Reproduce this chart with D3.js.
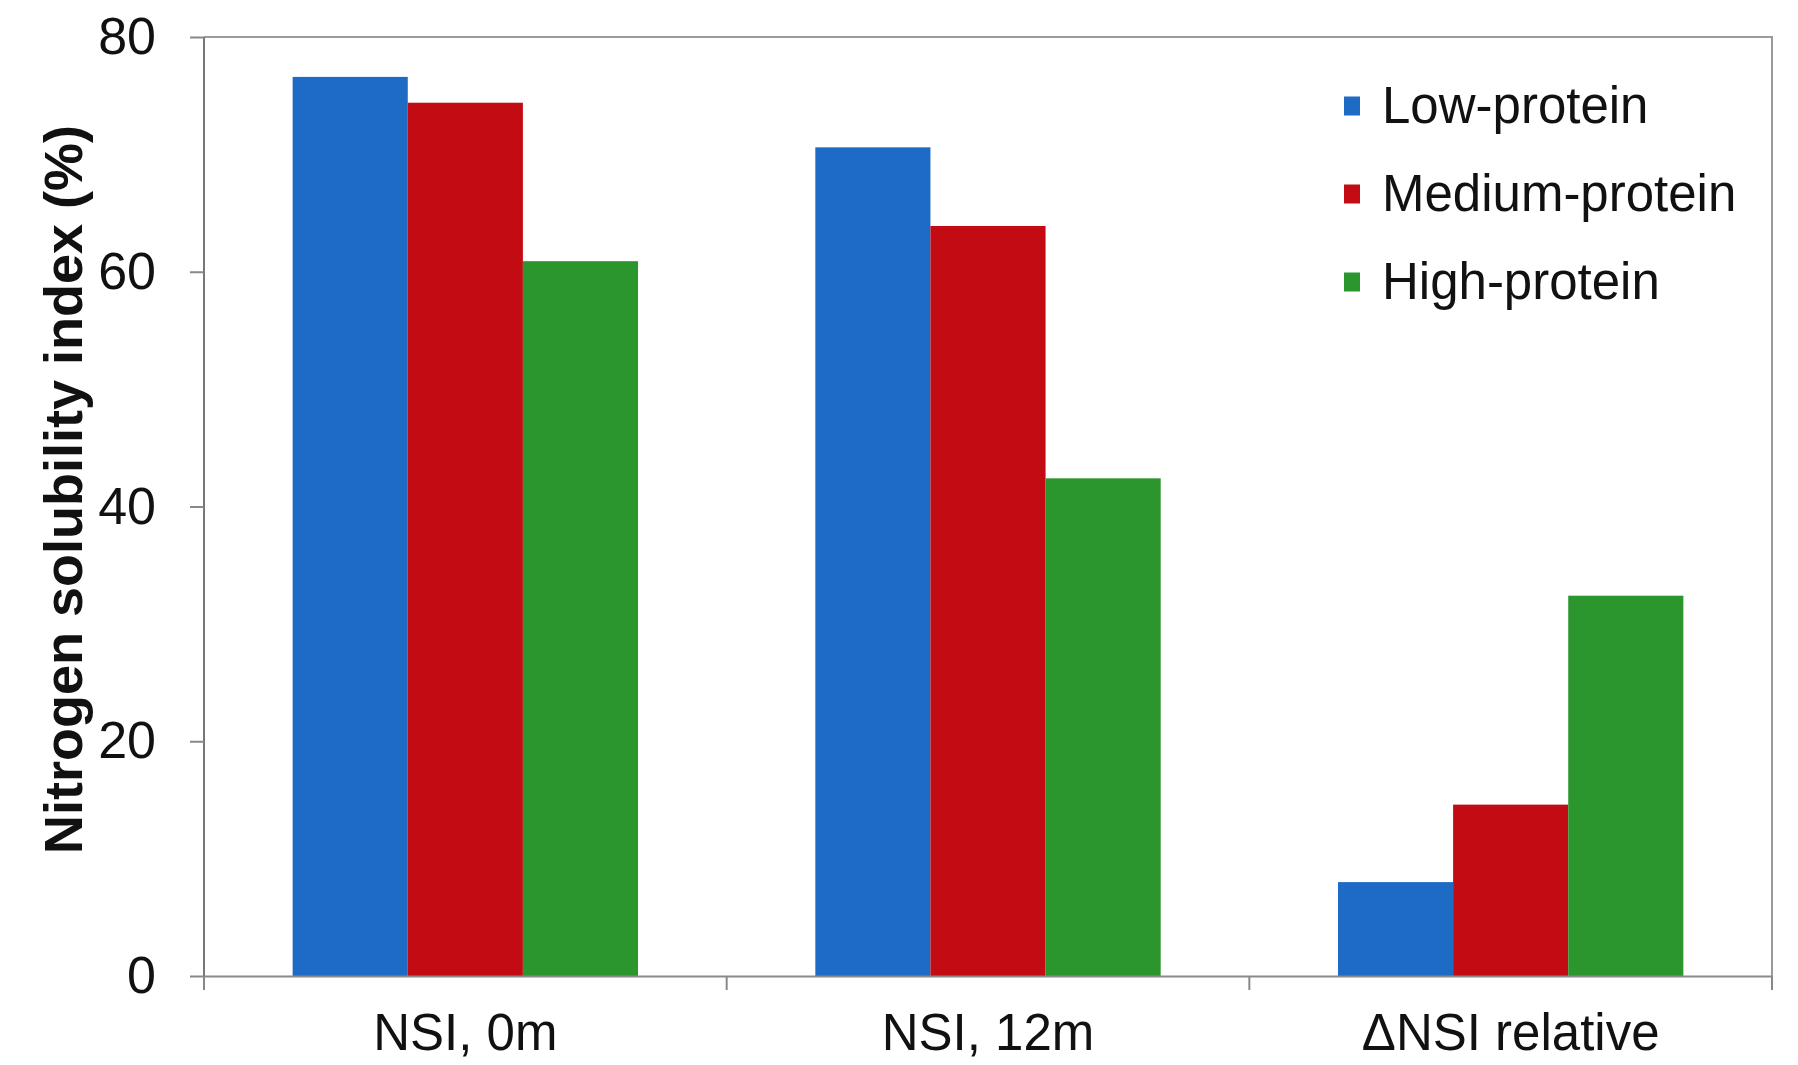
<!DOCTYPE html>
<html>
<head>
<meta charset="utf-8">
<script src="https://cdn.jsdelivr.net/npm/d3@7"></script>
<style>
  body { margin: 0; background: #fff; }
  svg { display: block; font-family: "Liberation Sans", Arial, sans-serif; }
</style>
</head>
<body>
<div id="chart"></div>
<script>
// values
var categories = ["NSI, 0m", "NSI, 12m", "\u0394NSI relative"];
var series = ["Low-protein", "Medium-protein", "High-protein"];
var lowProtein = [76.6, 70.6, 8.0];
var mediumProtein = [74.4, 63.9, 14.6];
var highProtein = [60.9, 42.4, 32.4];
var yTicks = [0, 20, 40, 60, 80];
var colors = ["#1e6bc6", "#c20b12", "#2b962d"];

var values = [lowProtein, mediumProtein, highProtein];

var width = 1798,
    height = 1065,
    margin = {top: 37, right: 26, bottom: 89, left: 204};

var svg = d3.select("#chart").append("svg")
    .attr("width", width)
    .attr("height", height);

var x0 = d3.scaleBand()
    .domain(categories)
    .range([margin.left, width - margin.right]);

var x1 = d3.scaleBand()
    .domain(series)
    .range([0, x0.bandwidth()])
    .paddingOuter(0.77);

var y = d3.scaleLinear()
    .domain([0, 80])
    .range([height - margin.bottom, margin.top]);

// rows of {cat, series, value}
var rows = [];
categories.forEach(function(c, i) {
    series.forEach(function(s, j) {
        rows.push({cat: c, series: s, value: values[j][i], color: colors[j]});
    });
});

// plot frame (top + right)
svg.append("path")
    .attr("d", "M" + margin.left + "," + y(80) + "H" + (width - margin.right) + "V" + y(0))
    .attr("fill", "none")
    .attr("stroke", "#9a9a9a")
    .attr("stroke-width", 2);

// bars
svg.append("g").selectAll("rect")
    .data(rows)
    .enter().append("rect")
    .attr("x", function(d) { return x0(d.cat) + x1(d.series); })
    .attr("width", x1.bandwidth())
    .attr("y", function(d) { return y(d.value); })
    .attr("height", function(d) { return y(0) - y(d.value); })
    .attr("fill", function(d) { return d.color; });

// y axis
var yAxis = svg.append("g")
    .attr("transform", "translate(" + margin.left + ",0)")
    .call(d3.axisLeft(y).tickValues(yTicks).tickSize(14).tickPadding(34).tickSizeOuter(0));
yAxis.select(".domain").attr("stroke", "#777").attr("stroke-width", 2)
    .attr("d", "M0," + y(80) + "V" + (y(0) + 14));
yAxis.selectAll(".tick line").attr("stroke", "#888").attr("stroke-width", 2);
yAxis.selectAll(".tick text")
    .attr("font-size", 52)
    .attr("font-family", "Liberation Sans, Arial, sans-serif")
    .attr("fill", "#111");

// x axis: labels at band centres, ticks at band edges
var xAxis = svg.append("g")
    .attr("transform", "translate(0," + y(0) + ")")
    .call(d3.axisBottom(x0).tickSize(0).tickPadding(38));
xAxis.select(".domain").attr("stroke", "#8a8a8a").attr("stroke-width", 2);
xAxis.selectAll(".tick text")
    .attr("font-size", 51)
    .attr("font-family", "Liberation Sans, Arial, sans-serif")
    .attr("fill", "#111");

var edges = categories.map(function(c) { return x0(c); }).concat([x0.range()[1]]);
xAxis.selectAll(".edge")
    .data(edges)
    .enter().append("line")
    .attr("class", "edge")
    .attr("x1", function(d) { return d; })
    .attr("x2", function(d) { return d; })
    .attr("y1", 0)
    .attr("y2", 14)
    .attr("stroke", "#888")
    .attr("stroke-width", 2);

// y title
svg.append("text")
    .attr("transform", "translate(63," + ((y(0) + y(80)) / 2 - 17) + ") rotate(-90)")
    .attr("text-anchor", "middle")
    .attr("dominant-baseline", "central")
    .attr("font-size", 54)
    .attr("font-weight", "bold")
    .attr("fill", "#111")
    .text("Nitrogen solubility index (%)");

// legend
var legend = svg.append("g").selectAll("g")
    .data(series)
    .enter().append("g")
    .attr("transform", function(d, i) { return "translate(1344," + (105.5 + i * 88) + ")"; });

legend.append("rect")
    .attr("x", 0)
    .attr("y", -9)
    .attr("width", 16)
    .attr("height", 19)
    .attr("fill", function(d, i) { return colors[i]; });

legend.append("text")
    .attr("x", 38)
    .attr("y", 0)
    .attr("dominant-baseline", "central")
    .attr("font-size", 51)
    .attr("fill", "#111")
    .text(function(d) { return d; });
</script>
</body>
</html>
